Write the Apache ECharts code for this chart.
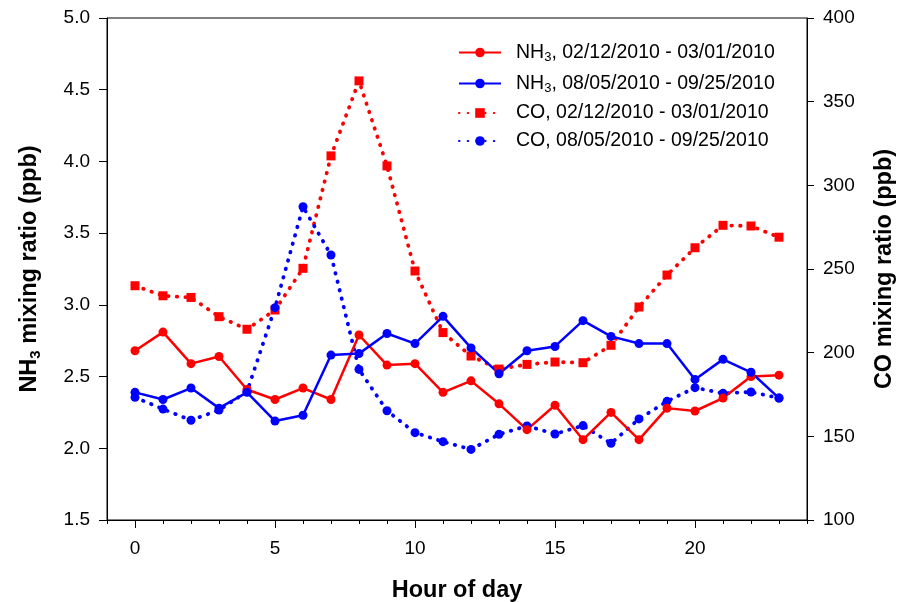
<!DOCTYPE html>
<html><head><meta charset="utf-8">
<script src="https://cdn.jsdelivr.net/npm/echarts@6/dist/echarts.min.js"></script>
<style>html,body{margin:0;padding:0;background:#fff}#c{width:902px;height:602px}</style>
</head><body><div id="c"></div>
<script>
const hours = [0,1,2,3,4,5,6,7,8,9,10,11,12,13,14,15,16,17,18,19,20,21,22,23];
const nh3Winter = [2.68,2.81,2.59,2.64,2.41,2.34,2.42,2.34,2.79,2.58,2.59,2.39,2.47,2.31,2.13,2.30,2.06,2.25,2.06,2.28,2.26,2.35,2.50,2.51];
const nh3Summer = [2.39,2.34,2.42,2.28,2.39,2.19,2.23,2.65,2.66,2.80,2.73,2.92,2.70,2.52,2.68,2.71,2.89,2.78,2.73,2.73,2.48,2.62,2.53,2.35];
const coWinter = [240,234,233,221.5,214,225.5,250.4,317.6,362.4,311.6,248.8,212,198,190.2,193,194.4,194,204.4,227.3,246.4,262.7,276.1,275.7,269];
const coSummer = [173.3,166.3,159.6,165.7,176.7,226.9,287.2,258.4,190,165.3,152.2,146.8,142.2,151.2,156.2,151.4,156.4,145.8,160.4,170.9,179.1,175.7,176.5,172.9];
const majorHours = [0,5,10,15,20];
const names = ['NH3, 02/12/2010 - 03/01/2010','NH3, 08/05/2010 - 09/25/2010','CO, 02/12/2010 - 03/01/2010','CO, 08/05/2010 - 09/25/2010'];

const pair = arr => hours.map((h,i)=>[h,arr[i]]);
const FONT = '"Liberation Sans", Arial, sans-serif';
const chart = echarts.init(document.getElementById('c'), null, {renderer:'canvas'});
const dotted = {type:[0.5,8.2], cap:'round', width:3.8};
const LF = 19.5, TF = 19, NF = 23.5;
chart.setOption({
  animation:false,
  textStyle:{fontFamily:FONT},
  grid:{left:107,right:95,top:18,bottom:82,containLabel:false,outerBoundsMode:'none',
        show:true,borderColor:'#000',borderWidth:1},
  legend:{
    orient:'vertical', left:458, top:41, padding:0, itemWidth:42, itemHeight:12, itemGap:8,
    data:names,
    formatter: n => n.startsWith('NH3') ? '{g|}{a|NH}{s|3}{a|' + n.slice(3) + '}' : '{g|}{a|' + n + '}',
    textStyle:{fontFamily:FONT, fontSize:LF, color:'#000',
      rich:{g:{width:10},
            a:{fontSize:LF, color:'#000', fontFamily:FONT, lineHeight:21},
            s:{fontSize:13, color:'#000', fontFamily:FONT, padding:[10,0,0,0], lineHeight:21}}}
  },
  xAxis:[{
    type:'value', min:-1, max:24, interval:1,
    name:'Hour of day', nameLocation:'middle', nameGap:59,
    nameTextStyle:{fontSize:NF, fontWeight:'bold', color:'#000', fontFamily:FONT},
    axisLine:{show:true, onZero:false, lineStyle:{color:'#000', width:1}},
    axisTick:{show:true, length:4, lineStyle:{color:'#000'}},
    axisLabel:{customValues:majorHours, fontSize:TF, color:'#000', margin:19, fontFamily:FONT},
    splitLine:{show:false}
  },{
    type:'value', min:-1, max:24, position:'bottom',
    axisLine:{show:false, onZero:false},
    axisTick:{show:true, length:8, customValues:majorHours, lineStyle:{color:'#000'}},
    axisLabel:{show:false}, splitLine:{show:false}
  }],
  yAxis:[{
    type:'value', min:1.5, max:5.0, interval:0.5, position:'left',
    name:'{a|NH}{s|3}{a| mixing ratio (ppb)}', nameLocation:'middle', nameGap:64, nameRotate:90,
    nameTextStyle:{fontFamily:FONT, fontWeight:'bold', fontSize:NF, color:'#000',
      rich:{a:{fontFamily:FONT, fontWeight:'bold', fontSize:NF, color:'#000'},
            s:{fontFamily:FONT, fontWeight:'bold', fontSize:15, color:'#000', padding:[12,0,0,0]}}},
    axisLine:{show:true, onZero:false, lineStyle:{color:'#000'}},
    axisTick:{show:true, length:8, lineStyle:{color:'#000'}},
    axisLabel:{fontSize:TF, color:'#000', margin:17, formatter:v=>v.toFixed(1), fontFamily:FONT},
    splitLine:{show:false}
  },{
    type:'value', min:100, max:400, interval:50, position:'right',
    name:'CO mixing ratio (ppb)', nameLocation:'middle', nameGap:66, nameRotate:90,
    nameTextStyle:{fontFamily:FONT, fontWeight:'bold', fontSize:NF, color:'#000'},
    axisLine:{show:true, onZero:false, lineStyle:{color:'#000'}},
    axisTick:{show:true, length:7, lineStyle:{color:'#000'}},
    axisLabel:{fontSize:TF, color:'#000', margin:16, fontFamily:FONT},
    splitLine:{show:false}
  }],
  series:[
    {name:names[2], type:'line', xAxisIndex:0, yAxisIndex:1, data:pair(coWinter), symbol:'rect', symbolSize:9,
      itemStyle:{color:'#ff0000'}, lineStyle:Object.assign({color:'#ff0000'},dotted)},
    {name:names[3], type:'line', xAxisIndex:0, yAxisIndex:1, data:pair(coSummer), symbol:'circle', symbolSize:9,
      itemStyle:{color:'#0000ff'}, lineStyle:Object.assign({color:'#0000ff'},dotted)},
    {name:names[0], type:'line', xAxisIndex:0, yAxisIndex:0, data:pair(nh3Winter), symbol:'circle', symbolSize:9,
      itemStyle:{color:'#ff0000'}, lineStyle:{color:'#ff0000', width:2.5}},
    {name:names[1], type:'line', xAxisIndex:0, yAxisIndex:0, data:pair(nh3Summer), symbol:'circle', symbolSize:9,
      itemStyle:{color:'#0000ff'}, lineStyle:{color:'#0000ff', width:2.5}}
  ]
});
</script></body></html>
